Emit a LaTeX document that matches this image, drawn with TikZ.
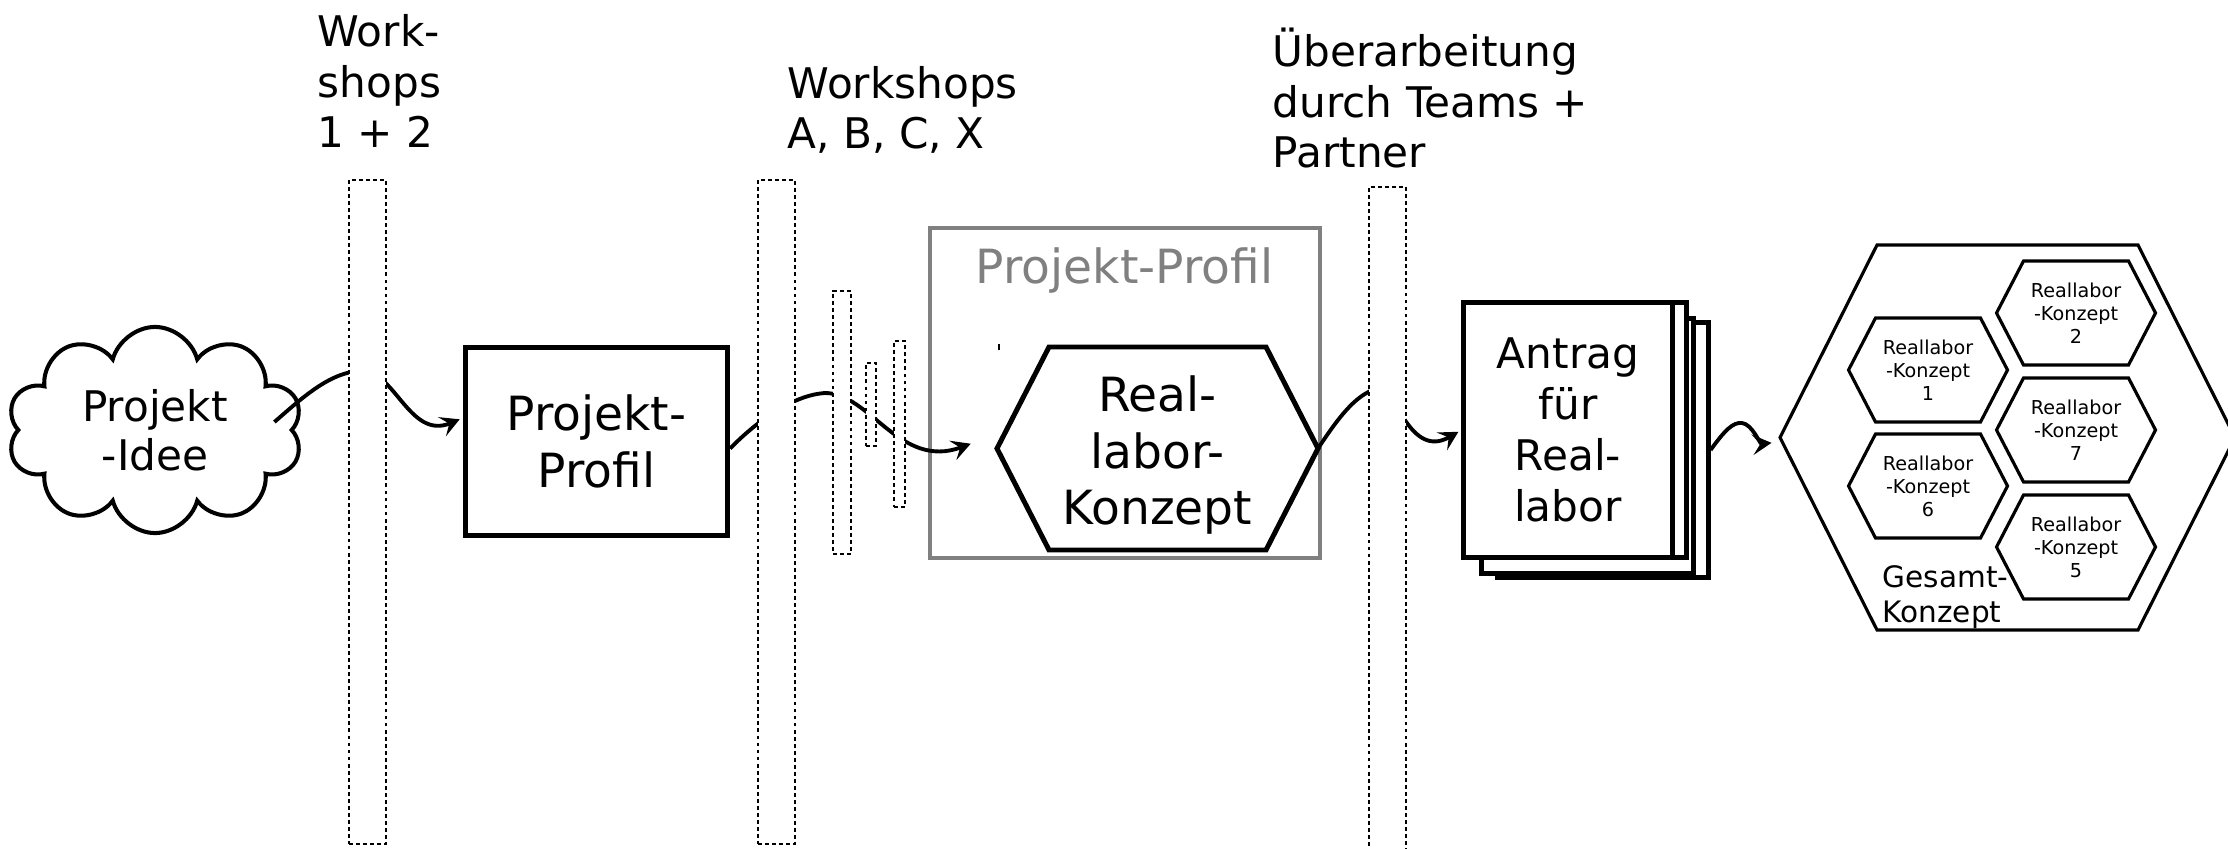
\documentclass[tikz,border=0pt]{standalone}
\usepackage{fontspec}
\setmainfont{DejaVu Sans}
\usetikzlibrary{shapes.symbols,arrows.meta,calc}

\newcommand\profilfont{\fontsize{13.4}{16}\selectfont}
\newcommand\labelfont{\fontsize{12}{14.5}\selectfont}

\tikzset{
  pics/hexa/.style args={#1/#2/#3}{code={
    \draw[pic actions] (-#1,0) coordinate (-w) -- (-#2,-#3) -- (#2,-#3)
      -- (#1,0) coordinate (-e) -- (#2,#3) -- (-#2,#3) -- cycle;
  }}
}

\begin{document}
\begin{tikzpicture}[x=0.01cm, y=-0.01cm,
  bar/.style={draw, fill=white, inner sep=0pt, line width=0.7pt, dash pattern=on 1.1pt off 0.9pt},
  flow/.style={line width=1.1pt, -{Stealth[length=5.4pt,width=5.8pt,inset=2.2pt]}, shorten >=1pt},
  page/.style={draw, fill=white, line width=1.42pt, minimum height=2.54cm, inner sep=0pt},
  title/.style={anchor=base west, align=left, inner sep=0pt, font=\labelfont},
  small/.style={align=center, inner sep=0pt, font=\fontsize{5.45}{6.5}\selectfont}]
\useasboundingbox (0,0) rectangle (2228,849);

\node (idee) [cloud, cloud puffs=10, cloud ignores aspect, draw, line width=1.15pt,
  minimum width=2.95cm, minimum height=2.06cm, align=center, inner sep=0pt,
  font=\fontsize{12}{13.9}\selectfont] at (155,430) {Projekt\\-Idee};
\node (profil) [draw, line width=1.42pt, minimum width=2.62cm, minimum height=1.88cm,
  align=center, font=\profilfont] at (596.5,441.5) {Projekt-\\Profil};

\node (ppbox) [draw=gray, line width=1.15pt, minimum width=3.9cm, minimum height=3.3cm] at (1125,393) {};
\node (pplbl) [anchor=base, text=gray, inner sep=0pt, font=\profilfont] at (1124.5,284) {Projekt-Profil};
\draw[line width=0.4pt] (999,344) -- (999,350);
\pic[line width=1.42pt] (rlkhex) at (1157.5,448.5) {hexa=160.5/108.5/101.5};
\node (rlk) [align=center, inner sep=0pt, font=\profilfont] at (1157.5,455) {Real-\\labor-\\Konzept};

\node (antrag3) [page, minimum width=2.1cm] at (1603,450) {};
\node (antrag2) [page, minimum width=2.11cm] at (1587.5,446) {};
\node (antrag1) [page, minimum width=2.22cm] at (1575,430) {};
\node (antrag) [page, minimum width=2.08cm, align=center, font=\labelfont] at (1568,430) {Antrag\\für\\Real-\\labor};

\pic[line width=0.9pt] (gk) at (2007.5,437.5) {hexa=227.5/130.5/192.5};
\foreach \n/\cx/\cy in {1/1928/370, 6/1928/486, 2/2076/313, 7/2076/430, 5/2076/547} {
  \pic[line width=0.9pt] (rl\n) at (\cx,\cy) {hexa=79.5/52.5/52};
  \node (rlk\n) [small] at (\cx,\cy) {Reallabor\\-Konzept\\\n};
}
\node (gklbl) [anchor=base west, align=left, inner sep=0pt, font=\fontsize{8.4}{9.7}\selectfont] at (1882,622) {Gesamt-\\Konzept};

\draw[flow] ($(idee.east)+(-20,-8)$) .. controls (300,400) and (330,371) .. (362,371)
  .. controls (395,371) and (410,440) .. (profil.170);
\draw[flow] (profil.-3) .. controls (760,418) and (795,395) .. (825,393)
  .. controls (870,393) and (900,470) .. ($(rlkhex-w)+(-23,-6)$);
\draw[flow] (rlkhex-e) .. controls (1340,415) and (1358,392) .. (1380,388)
  .. controls (1395,388) and (1410,460) .. (antrag.west);
\draw[flow] (antrag3.east) .. controls (1725,430) and (1733,422) .. (1742,423)
  .. controls (1752,424) and (1760,444) .. ($(gk-w)+(-5,5)$);

\node (ws12) [bar, minimum width=0.37cm, minimum height=6.64cm] at (367.5,512) {};
\node (wsabc) [bar, minimum width=0.37cm, minimum height=6.64cm] at (776.5,512) {};
\node (wsa) [bar, minimum width=0.18cm, minimum height=2.63cm] at (842,422.5) {};
\node (wsb) [bar, minimum width=0.1cm, minimum height=0.83cm] at (871,404.5) {};
\node (wsc) [bar, minimum width=0.11cm, minimum height=1.66cm] at (899.5,424) {};
\node (ueber) [bar, minimum width=0.37cm, minimum height=6.7cm] at (1387.5,522) {};

\node (ws12lbl) [title] at (317,148) {Work-\\shops\\1 + 2};
\node (wsabclbl) [title] at (787,149) {Workshops\\A, B, C, X};
\node (ueberlbl) [title] at (1272,168) {Überarbeitung\\durch Teams +\\Partner};
\end{tikzpicture}
\end{document}
